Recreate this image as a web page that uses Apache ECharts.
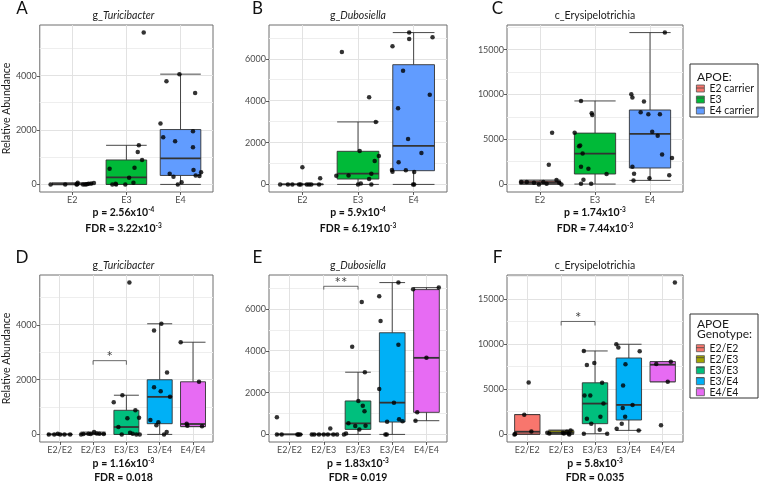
<!DOCTYPE html>
<html><head><meta charset="utf-8">
<script src="https://cdn.jsdelivr.net/npm/echarts/dist/echarts.min.js"></script>
<style>html,body{margin:0;padding:0;background:#fff}#c{width:760px;height:482px}</style>
</head><body><div id="c"></div>
<script>
// ---------------- data ----------------
const catsTop = ['E2', 'E3', 'E4'];
const catsBot = ['E2/E2', 'E2/E3', 'E3/E3', 'E3/E4', 'E4/E4'];
const groupsTop = ['E2 carrier', 'E3', 'E4 carrier'];
const groupsBot = ['E2/E2', 'E2/E3', 'E3/E3', 'E3/E4', 'E4/E4'];
const colorsTop = ['#F8766D', '#00BA38', '#619CFF'];
const colorsBot = ['#F8766D', '#A3A500', '#00BF7D', '#00B0F6', '#E76BF3'];

const ticksSmall = [0, 2000, 4000];
const minorSmall = [1000, 3000, 5000];
const ticksMid = [0, 2000, 4000, 6000];
const minorMid = [1000, 3000, 5000, 7000];
const ticksBig = [0, 5000, 10000, 15000];
const minorBig = [2500, 7500, 12500, 17500];

// box stats: [lower whisker, Q1, median, Q3, upper whisker]
const boxA = [[0, 0, 5, 25, 60], [0, 0, 260, 900, 1440], [0, 330, 960, 2020, 4060]];
const boxB = [[0, 0, 0, 0, 0], [0, 256, 512, 1584, 2990], [0, 656, 1840, 5728, 7264]];
const boxC = [[0, 110, 224, 373, 485], [37, 1157, 3433, 5709, 9291], [448, 1828, 5634, 8284, 16900]];
const boxD = [[0, 0, 0, 0, 0], [0, 0, 10, 30, 85], [0, 0, 270, 880, 1430], [0, 391, 1370, 1994, 4037], [281, 290, 380, 1920, 3364]];
const boxE = [[0, 0, 0, 0, 0], [0, 0, 0, 0, 0], [0, 240, 529, 1603, 2981], [0, 593, 1522, 4872, 7276], [657, 1058, 3670, 6939, 7035]];
const boxF = [[0, 37, 298, 2196, 2196], [0, 75, 186, 409, 485], [74, 1191, 3424, 5731, 9267], [447, 1600, 3275, 8485, 10011], [5843, 5843, 7741, 8076, 8076]];

// jittered points per group: [offset from category, value]
const ptsA = [
  [[-0.40,0],[-0.13,0],[0.08,0],[0.09,10],[0.10,60],[0.20,0],[0.24,0],[0.27,10],[0.30,20],[0.35,30],[0.40,50]],
  [[0.32,5590],[0.23,1440],[0.21,1190],[0.29,900],[-0.31,580],[0.15,615],[0.05,245],[0.13,60],[-0.26,0],[-0.20,25],[-0.19,0],[-0.02,0]],
  [[-0.02,4060],[-0.26,3800],[0.27,3370],[-0.37,2240],[0.23,1960],[-0.32,1735],[-0.10,1590],[0.23,1370],[0.24,530],[-0.20,395],[-0.13,283],[0.28,330],[0.35,310],[0.38,445],[0.02,75],[-0.05,0]]
];
const ptsB = [
  [[-0.40,0],[-0.26,0],[-0.18,0],[-0.06,0],[-0.03,0],[0.08,0],[0.12,0],[0.16,0],[0.30,0],[0.0,816],[0.32,290]],
  [[-0.29,6336],[0.20,4176],[0.32,2990],[0.03,1600],[0.375,1360],[0.30,1120],[-0.39,416],[-0.17,432],[0.24,512],[0.20,256],[0.05,48],[0.0,0],[0.24,0]],
  [[-0.08,7264],[0.34,7040],[-0.08,6960],[-0.38,6608],[-0.19,5440],[0.29,4288],[-0.28,3648],[-0.10,2176],[0.14,1504],[-0.27,1056],[-0.39,688],[-0.38,608],[-0.14,672],[0.01,592],[-0.01,0],[0.01,0]]
];
const ptsC = [
  [[-0.34,261],[-0.24,261],[-0.11,187],[-0.02,0],[0.06,261],[0.12,75],[0.16,2201],[0.22,5746],[0.30,485],[0.35,187],[0.39,0]],
  [[-0.255,9291],[-0.06,7910],[-0.05,7724],[-0.37,5746],[-0.27,4328],[-0.29,4254],[-0.225,3433],[-0.255,1978],[-0.12,1754],[0.21,1157],[-0.21,522],[-0.255,75],[-0.07,75]],
  [[0.27,16900],[-0.34,10037],[-0.32,9664],[-0.11,9216],[-0.17,8022],[-0.03,7799],[0.18,7799],[0.04,5858],[0.14,5410],[0.22,3321],[0.40,2948],[-0.32,1978],[-0.29,1194],[-0.01,672],[0.35,1007],[-0.30,448]]
];
const ptsD = [
  [[-0.33,0],[-0.165,0],[-0.06,25],[0.01,0],[0.14,0],[0.31,0]],
  [[-0.36,0],[-0.29,12],[-0.14,25],[-0.07,12],[0.03,85],[0.11,37],[0.19,25],[0.32,12]],
  [[0.09,5540],[-0.12,1430],[-0.38,1175],[0.27,880],[0.03,587],[0.38,612],[-0.24,270],[0.11,60],[-0.14,0],[0.19,25],[0.30,0],[0.40,0]],
  [[0.05,4037],[-0.17,3792],[0.22,2263],[-0.17,1725],[0.03,1578],[0.31,1370],[-0.28,526],[-0.04,440],[-0.10,330],[0.21,86],[0.13,0]],
  [[-0.37,3364],[0.18,1920],[-0.19,391],[-0.17,318],[0.27,294]]
];
const ptsE = [
  [[-0.37,817],[-0.37,0],[-0.23,0],[0.23,0],[0.26,0],[0.31,0]],
  [[-0.35,0],[-0.28,0],[-0.14,0],[0,0],[0.12,0],[0.28,0],[0.39,0],[0.19,288]],
  [[0.11,6346],[-0.17,4199],[0.20,2981],[0.01,1603],[0.14,1378],[0.19,1106],[-0.28,529],[-0.08,401],[0.22,417],[0.04,240],[-0.35,48],[-0.41,0]],
  [[0.18,7276],[-0.38,6619],[-0.34,5433],[0.18,4295],[-0.38,2179],[0.05,1522],[0.20,721],[0.30,625],[-0.15,609],[-0.20,0],[-0.16,0]],
  [[-0.39,6955],[0.36,7035],[0,3670],[-0.27,1058],[-0.32,657]]
];
const ptsF = [
  [[0.04,5769],[-0.09,2196],[0.12,335],[-0.38,0],[-0.36,40]],
  [[-0.41,186],[-0.35,112],[0.05,186],[0.17,298],[0.22,112],[0.24,0],[0.28,447],[0.08,112]],
  [[-0.33,9267],[-0.02,7927],[-0.24,7704],[0.21,5731],[-0.31,4317],[-0.14,4317],[0.25,3424],[-0.24,1749],[0.16,1972],[-0.11,1191],[0.14,521],[-0.33,74],[0.36,74]],
  [[-0.37,10011],[-0.31,9639],[0.32,9230],[-0.10,7778],[-0.17,5434],[0.11,3275],[-0.18,2940],[-0.11,1972],[-0.21,1191],[-0.36,633],[0.29,447]],
  [[0.36,16859],[0.24,8076],[-0.19,7815],[0.15,5843],[-0.05,1005]]
];

// significance brackets: [from cat, to cat, bar value, tick end value]
const sigD = [1, 2, 2691, 2544]; const sigDText = '*';
const sigE = [1, 2, 7099, 6939]; const sigEText = '**';
const sigF = [1, 2, 12542, 12095]; const sigFText = '*';

const titles = [['g_', 'Turicibacter'], ['g_', 'Dubosiella'], ['c_Erysipelotrichia', '']];
const pTexts = [['2.56x10', '-4'], ['5.9x10', '-4'], ['1.74x10', '-3'], ['1.16x10', '-3'], ['1.83x10', '-3'], ['5.8x10', '-3']];
const fdrTexts = [['3.22x10', '-3'], ['6.19x10', '-3'], ['7.44x10', '-3'], ['0.018', ''], ['0.019', ''], ['0.035', '']];
const letters = ['A', 'B', 'C', 'D', 'E', 'F'];
const yName = 'Relative Abundance';

// ---------------- layout ----------------
const FONT = 'Lato, "Open Sans", sans-serif';
const panels = [
  {g: [34, 25, 179, 167], cats: catsTop, names: groupsTop, colors: colorsTop, box: boxA, pts: ptsA, yr: [-279.5, 5869.5], major: ticksSmall, minor: minorSmall},
  {g: [269, 25, 178, 167], cats: catsTop, names: groupsTop, colors: colorsTop, box: boxB, pts: ptsB, yr: [-363.2, 7627.2], major: ticksMid, minor: minorMid},
  {g: [507, 25, 176, 167], cats: catsTop, names: groupsTop, colors: colorsTop, box: boxC, pts: ptsC, yr: [-845, 17745], major: ticksBig, minor: minorBig},
  {g: [34, 275, 179, 167], cats: catsBot, names: groupsBot, colors: colorsBot, box: boxD, pts: ptsD, yr: [-277, 5817], major: ticksSmall, minor: minorSmall, sig: sigD, sigText: sigDText},
  {g: [269, 275, 178, 167], cats: catsBot, names: groupsBot, colors: colorsBot, box: boxE, pts: ptsE, yr: [-363.8, 7639.8], major: ticksMid, minor: minorMid, sig: sigE, sigText: sigEText},
  {g: [507, 275, 176, 167], cats: catsBot, names: groupsBot, colors: colorsBot, box: boxF, pts: ptsF, yr: [-843, 17702], major: ticksBig, minor: minorBig, sig: sigF, sigText: sigFText}
];

function renderBox(params, api) {
  const x = api.value(0);
  const lo = api.coord([x, api.value(1)]);
  const q1 = api.coord([x, api.value(2)]);
  const md = api.coord([x, api.value(3)]);
  const q3 = api.coord([x, api.value(4)]);
  const hi = api.coord([x, api.value(5)]);
  const w = api.size([0.75, 0])[0];
  const cx = lo[0];
  const fill = api.visual('color');
  const ls = {stroke: '#333', lineWidth: 0.9};
  return {type: 'group', children: [
    {type: 'line', shape: {x1: cx, y1: q3[1], x2: cx, y2: hi[1]}, style: ls},
    {type: 'line', shape: {x1: cx, y1: q1[1], x2: cx, y2: lo[1]}, style: ls},
    {type: 'line', shape: {x1: cx - w / 2, y1: hi[1], x2: cx + w / 2, y2: hi[1]}, style: ls},
    {type: 'line', shape: {x1: cx - w / 2, y1: lo[1], x2: cx + w / 2, y2: lo[1]}, style: ls},
    {type: 'rect', shape: {x: cx - w / 2, y: q3[1], width: w, height: q1[1] - q3[1]}, style: {fill: fill, stroke: '#333', lineWidth: 0.9}},
    {type: 'line', shape: {x1: cx - w / 2, y1: md[1], x2: cx + w / 2, y2: md[1]}, style: {stroke: '#333', lineWidth: 1.8}}
  ]};
}

// all grid lines of one panel, positioned through the panel's axes
function makeGridRenderer(P) {
  return function (params, api) {
    const cs = params.coordSys;
    const kids = [];
    const snap = v => Math.round(v - 0.5) + 0.5;
    P.minor.forEach(v => {
      const y = snap(api.coord([0, v])[1]);
      kids.push({type: 'line', shape: {x1: cs.x, y1: y, x2: cs.x + cs.width, y2: y}, style: {stroke: '#EEEEEE', lineWidth: 1}});
    });
    P.major.forEach(v => {
      const y = snap(api.coord([0, v])[1]);
      kids.push({type: 'line', shape: {x1: cs.x, y1: y, x2: cs.x + cs.width, y2: y}, style: {stroke: '#E2E2E2', lineWidth: 1}});
    });
    P.cats.forEach((c, i) => {
      const x = snap(api.coord([i, 0])[0]);
      kids.push({type: 'line', shape: {x1: x, y1: cs.y, x2: x, y2: cs.y + cs.height}, style: {stroke: '#E2E2E2', lineWidth: 1}});
    });
    return {type: 'group', children: kids};
  };
}

const option = {
  animation: false, backgroundColor: '#fff',
  grid: [], xAxis: [], yAxis: [], series: [], graphic: [],
  legend: [
    {data: groupsTop, orient: 'vertical', left: 696, top: 83, padding: 0, itemGap: 0, itemWidth: 8, itemHeight: 7,
      icon: 'rect', selectedMode: false, itemStyle: {borderColor: '#555', borderWidth: 0.8},
      textStyle: {fontSize: 10.5, lineHeight: 10, color: '#1a1a1a', fontFamily: FONT}},
    {data: groupsBot, orient: 'vertical', left: 696, top: 342.7, padding: 0, itemGap: 0, itemWidth: 8, itemHeight: 7,
      icon: 'rect', selectedMode: false, itemStyle: {borderColor: '#555', borderWidth: 0.8},
      textStyle: {fontSize: 10.5, lineHeight: 10, color: '#1a1a1a', fontFamily: FONT}}
  ]
};

panels.forEach((P, k) => {
  const n = P.cats.length;
  const idx = P.cats.map((c, i) => i);
  option.grid.push({left: P.g[0], top: P.g[1], width: P.g[2], height: P.g[3], show: true,
    borderColor: '#6e6e6e', borderWidth: 1, backgroundColor: 'transparent'});
  option.xAxis.push({type: 'value', gridIndex: k, min: -0.6, max: n - 0.4, position: 'bottom',
    axisLine: {show: false, onZero: false},
    axisTick: {show: true, customValues: idx, length: 3, lineStyle: {color: '#333', width: 0.8}},
    axisLabel: {customValues: idx, formatter: v => P.cats[Math.round(v)], fontSize: 9, color: '#4D4D4D', margin: 4, fontFamily: FONT},
    splitLine: {show: false}});
  option.yAxis.push({type: 'value', gridIndex: k, min: P.yr[0], max: P.yr[1], position: 'left',
    name: k % 3 === 0 ? yName : '', nameLocation: 'middle', nameGap: 21,
    nameTextStyle: {fontSize: 10.5, color: '#1a1a1a', fontFamily: FONT},
    axisLine: {show: false, onZero: false},
    axisTick: {show: true, customValues: P.major, length: 3, lineStyle: {color: '#333', width: 0.8}},
    axisLabel: {customValues: P.major, formatter: v => String(v), fontSize: 9, color: '#4D4D4D', margin: 3, fontFamily: FONT},
    splitLine: {show: false}});

  option.series.push({type: 'custom', name: 'grid' + k, xAxisIndex: k, yAxisIndex: k, silent: true, z: 0,
    encode: {x: 0, y: 1}, data: [[0, 0]], renderItem: makeGridRenderer(P)});

  P.box.forEach((b, i) => {
    option.series.push({type: 'custom', name: P.names[i], xAxisIndex: k, yAxisIndex: k,
      itemStyle: {color: P.colors[i]}, renderItem: renderBox, silent: true, z: 2,
      encode: {x: 0, y: [1, 2, 3, 4, 5]}, data: [[i].concat(b)]});
  });
  const pts = [];
  P.pts.forEach((g, i) => g.forEach(p => pts.push([i + p[0], p[1]])));
  option.series.push({type: 'scatter', name: 'pts' + k, xAxisIndex: k, yAxisIndex: k, data: pts,
    symbolSize: 4.5, itemStyle: {color: '#000'}, silent: true, z: 5});

  if (P.sig) {
    const txt = P.sigText;
    option.series.push({type: 'custom', name: 'sig' + k, xAxisIndex: k, yAxisIndex: k, silent: true, z: 4,
      data: [P.sig],
      renderItem: (params, api) => {
        const a = api.coord([api.value(0), api.value(3)]);
        const b = api.coord([api.value(0), api.value(2)]);
        const c = api.coord([api.value(1), api.value(2)]);
        const d = api.coord([api.value(1), api.value(3)]);
        return {type: 'group', children: [
          {type: 'polyline', shape: {points: [a, b, c, d]}, style: {stroke: '#444', lineWidth: 0.8, fill: 'none'}},
          {type: 'text', x: (b[0] + c[0]) / 2, y: b[1] + 4, style: {text: txt, fontSize: 15, fill: '#444', align: 'center', verticalAlign: 'bottom', fontFamily: FONT}}
        ]};
      }});
  }

  const cx = P.g[0] + P.g[2] / 2;
  const top = P.g[1];
  const row = k < 3 ? 0 : 1;
  const t = titles[k % 3];
  option.graphic.push({type: 'text', x: cx, y: top - 9, style: {
    text: t[1] ? '{n|' + t[0] + '}{i|' + t[1] + '}' : '{n|' + t[0] + '}',
    rich: {n: {fontSize: 10.5, fontFamily: FONT, fill: '#1a1a1a'}, i: {fontSize: 10.5, fontStyle: 'italic', fontFamily: FONT, fill: '#1a1a1a'}},
    align: 'center', verticalAlign: 'middle'}});
  const lx = [22, 257.5, 497.5][k % 3];
  option.graphic.push({type: 'text', x: lx, y: row ? 258 : 9, style: {text: letters[k], fontSize: 17, fontFamily: FONT, fill: '#111', align: 'center', verticalAlign: 'middle'}});
  const py = row ? 464 : 212.5;
  const fy = row ? 477.5 : 228.5;
  const rich = {b: {fontSize: 10.5, fontWeight: 'bold', fontFamily: FONT, fill: '#111', lineHeight: 13},
    s: {fontSize: 6.5, fontWeight: 'bold', fontFamily: FONT, fill: '#111', verticalAlign: 'top', lineHeight: 8}};
  const mk = (pre, arr) => '{b|' + pre + arr[0] + '}' + (arr[1] ? '{s|' + arr[1] + '}' : '');
  option.graphic.push({type: 'text', x: cx, y: py, style: {text: mk('p = ', pTexts[k]), rich: rich, align: 'center', verticalAlign: 'middle'}});
  option.graphic.push({type: 'text', x: cx, y: fy, style: {text: mk('FDR = ', fdrTexts[k]), rich: rich, align: 'center', verticalAlign: 'middle'}});
});

// legend frames and titles
option.graphic.push({type: 'rect', shape: {x: 690, y: 64, width: 68, height: 53}, style: {fill: 'none', stroke: '#333', lineWidth: 1}});
option.graphic.push({type: 'text', x: 697, y: 77, style: {text: 'APOE:', fontSize: 12, fontFamily: FONT, fill: '#1a1a1a', verticalAlign: 'middle'}});
option.graphic.push({type: 'rect', shape: {x: 690, y: 314, width: 68, height: 84}, style: {fill: 'none', stroke: '#333', lineWidth: 1}});
option.graphic.push({type: 'text', x: 697, y: 329, style: {text: 'APOE\nGenotype:', fontSize: 12, lineHeight: 10, fontFamily: FONT, fill: '#1a1a1a', verticalAlign: 'middle'}});
[88, 98, 108].forEach(y => option.graphic.push({type: 'line', z: 100, shape: {x1: 696, y1: y, x2: 704, y2: y}, style: {stroke: '#444', lineWidth: 0.8}}));
[347.7, 357.7, 367.7, 377.7, 387.7].forEach(y => option.graphic.push({type: 'line', z: 100, shape: {x1: 696, y1: y, x2: 704, y2: y}, style: {stroke: '#444', lineWidth: 0.8}}));

const chart = echarts.init(document.getElementById('c'), null, {renderer: 'canvas'});
chart.setOption(option);
</script></body></html>
